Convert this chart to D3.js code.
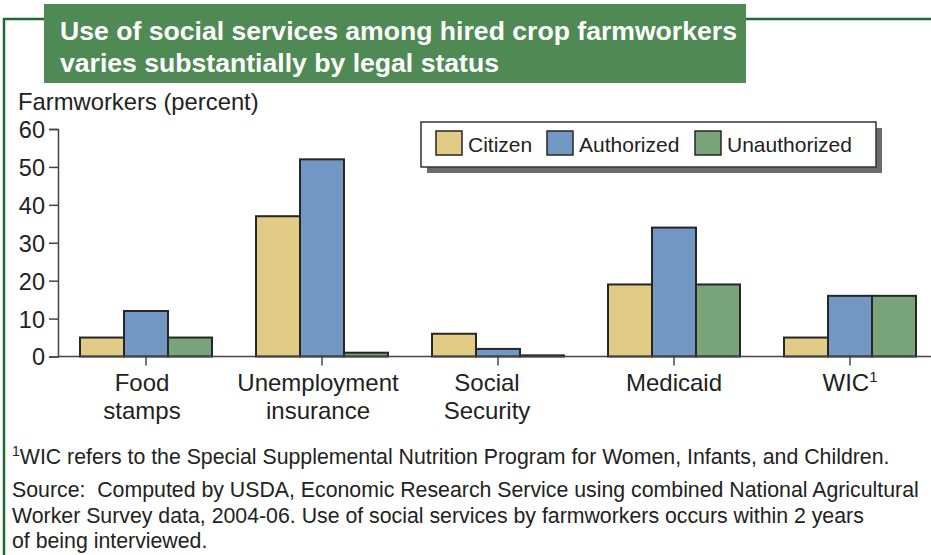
<!DOCTYPE html>
<html>
<head>
<meta charset="utf-8">
<script src="https://cdn.jsdelivr.net/npm/d3@7"></script>
<style>
  body { margin: 0; background: #fff; }
  svg { display: block; font-family: "Liberation Sans", Arial, sans-serif; }
</style>
</head>
<body>
<div id="chart"></div>
<script>
// Chart data
const categories = ["Food stamps", "Unemployment insurance", "Social Security", "Medicaid", "WIC"];
const categoryLines = [["Food", "stamps"], ["Unemployment", "insurance"], ["Social", "Security"], ["Medicaid"], ["WIC"]];
const seriesNames = ["Citizen", "Authorized", "Unauthorized"];
const citizen = [5, 37, 6, 19, 5];
const authorized = [12, 52, 2, 34, 16];
const unauthorized = [5, 1, 0.3, 19, 16];
const yTicks = [0, 10, 20, 30, 40, 50, 60];

// labels in the original sit a little off their ticks
const labelShift = [-4, -4, -11, 0, 0];

const width = 931;
const height = 555;

// Set up the svg
const svg = d3.select("#chart")
    .append("svg")
    .attr("width", width)
    .attr("height", height);

// Green frame around the chart
svg.append("path")
    .attr("d", "M4,555 L4,19 L931,19")
    .attr("fill", "none")
    .attr("stroke", "#1b6b33")
    .attr("stroke-width", 2.5);

// Title box
svg.append("rect")
    .attr("x", 44).attr("y", 4)
    .attr("width", 702).attr("height", 79)
    .attr("fill", "#4f8a55");

const title = svg.append("text")
    .attr("x", 60)
    .attr("fill", "#fff")
    .attr("font-weight", "bold")
    .attr("font-size", 26.6);
title.append("tspan").attr("x", 60).attr("y", 40).text("Use of social services among hired crop farmworkers");
title.append("tspan").attr("x", 60).attr("y", 72).text("varies substantially by legal status");

// Axis title
svg.append("text")
    .attr("x", 18).attr("y", 110)
    .attr("font-size", 23.8)
    .attr("fill", "#222")
    .text("Farmworkers (percent)");

// Scales
const x0 = d3.scaleBand()
    .domain(categories)
    .range([58, 938]);

const x1 = d3.scaleBand()
    .domain(seriesNames)
    .range([0, 132]);

const y = d3.scaleLinear()
    .domain([0, 60])
    .range([356.5, 129]);

const color = d3.scaleOrdinal()
    .domain(seriesNames)
    .range(["#e1cb85", "#7397c3", "#79a47a"]);

// Build rows for the bars
const seriesValues = [citizen, authorized, unauthorized];
const rows = [];
categories.forEach((c, i) => {
    seriesNames.forEach((s, j) => {
        rows.push({ category: c, series: s, value: seriesValues[j][i] });
    });
});

// Bars
svg.selectAll(".bar")
    .data(rows)
    .enter().append("rect")
    .attr("class", "bar")
    .attr("x", d => x0(d.category) + x0.bandwidth() / 2 - 66 + x1(d.series))
    .attr("y", d => y(d.value))
    .attr("width", x1.bandwidth())
    .attr("height", d => y(0) - y(d.value))
    .attr("fill", d => color(d.series))
    .attr("stroke", "#262626")
    .attr("stroke-width", 2);

// Y axis
const yAxis = svg.append("g")
    .attr("transform", "translate(58,0)")
    .call(d3.axisLeft(y).tickValues(yTicks).tickSize(9).tickPadding(4));
yAxis.select(".domain").attr("stroke", "#444").attr("stroke-width", 1.5);
yAxis.selectAll(".tick line").attr("stroke", "#444").attr("stroke-width", 1.5);
yAxis.selectAll(".tick text")
    .attr("font-size", 23.5)
    .attr("font-family", "Liberation Sans, Arial, sans-serif")
    .attr("fill", "#222")
    .attr("dy", "0.36em");

// X axis
const xAxis = svg.append("g")
    .attr("transform", "translate(0," + y(0) + ")")
    .call(d3.axisBottom(x0).tickSize(9).tickSizeOuter(0).tickFormat(""));
xAxis.select(".domain").attr("stroke", "#444").attr("stroke-width", 1.5)
    .attr("d", "M58,0H931");
xAxis.selectAll(".tick line").attr("stroke", "#444").attr("stroke-width", 1.5);

// Category labels
categories.forEach((c, i) => {
    const cx = x0(c) + x0.bandwidth() / 2 + labelShift[i];
    const t = svg.append("text")
        .attr("text-anchor", "middle")
        .attr("font-size", 24)
        .attr("fill", "#222");
    categoryLines[i].forEach((line, k) => {
        t.append("tspan").attr("x", cx).attr("y", 391 + k * 28).text(line);
        if (c === "WIC") {
            t.append("tspan").attr("dy", -9).attr("font-size", 15).text("1");
        }
    });
});

// Legend
const legend = svg.append("g");
legend.append("rect")
    .attr("x", 427).attr("y", 128)
    .attr("width", 455).attr("height", 45)
    .attr("fill", "#6b6b6b");
legend.append("rect")
    .attr("x", 421).attr("y", 122)
    .attr("width", 455).attr("height", 45)
    .attr("fill", "#fff")
    .attr("stroke", "#333")
    .attr("stroke-width", 1.5);

const legendX = [436, 547, 695];
seriesNames.forEach((s, i) => {
    legend.append("rect")
        .attr("x", legendX[i]).attr("y", 131)
        .attr("width", 26).attr("height", 24)
        .attr("fill", color(s))
        .attr("stroke", "#262626")
        .attr("stroke-width", 1.5);
    legend.append("text")
        .attr("x", legendX[i] + 32).attr("y", 152)
        .attr("font-size", 21)
        .attr("fill", "#222")
        .text(s);
});

// Footnotes
const notes = svg.append("g")
    .attr("font-size", 21.3)
    .attr("fill", "#222");
const wic = notes.append("text").attr("x", 12).attr("y", 464);
wic.append("tspan").attr("font-size", 14).attr("dy", -8).text("1");
wic.append("tspan").attr("dy", 8).text("WIC refers to the Special Supplemental Nutrition Program for Women, Infants, and Children.");

const sourceLines = [
    "Source:  Computed by USDA, Economic Research Service using combined National Agricultural",
    "Worker Survey data, 2004-06. Use of social services by farmworkers occurs within 2 years",
    "of being interviewed."
];
sourceLines.forEach((line, i) => {
    notes.append("text")
        .attr("x", 12).attr("y", 497 + i * 25.5)
        .attr("xml:space", "preserve")
        .style("white-space", "pre")
        .text(line);
});
</script>
</body>
</html>
